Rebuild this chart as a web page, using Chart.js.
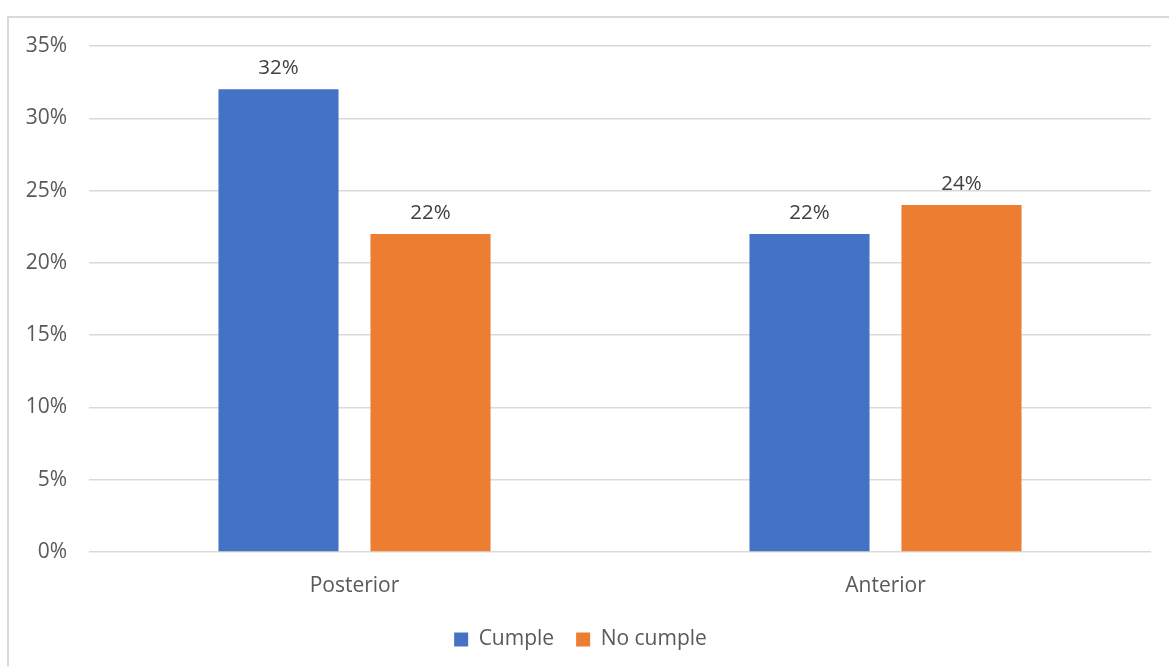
<!DOCTYPE html>
<html>
<head>
<meta charset="utf-8">
<script src="https://cdn.jsdelivr.net/npm/chart.js@4"></script>
<style>
  html, body { margin: 0; padding: 0; background: #fff; }
  #frame { position: absolute; left: 7px; top: 16px; width: 1200px; height: 700px;
           border-left: 2px solid #d9d9d9; border-top: 2px solid #d9d9d9; }
  #wrap { position: absolute; left: 0; top: 0; width: 1169px; height: 666px; }
</style>
</head>
<body>
<div id="frame"></div>
<div id="wrap"><canvas id="chart"></canvas></div>
<script>
const categories = ["Posterior", "Anterior"];
const cumple = [32, 22];
const noCumple = [22, 24];
const yTicks = [0, 5, 10, 15, 20, 25, 30, 35];

// value labels above bars
const barLabels = {
  id: "barLabels",
  afterDatasetsDraw(chart) {
    const ctx = chart.ctx;
    ctx.save();
    ctx.font = "20.5px 'Open Sans', sans-serif";
    ctx.fillStyle = "#404040";
    ctx.textAlign = "center";
    ctx.textBaseline = "bottom";
    chart.data.datasets.forEach((ds, i) => {
      chart.getDatasetMeta(i).data.forEach((bar, j) => {
        ctx.fillText(ds.data[j] + "%", bar.x, bar.y - 11);
      });
    });
    ctx.restore();
  }
};

const ctx = document.getElementById("chart").getContext("2d");
new Chart(ctx, {
  type: "bar",
  data: {
    labels: categories,
    datasets: [
      { label: "Cumple", data: cumple, backgroundColor: "#4472C4" },
      { label: "No cumple", data: noCumple, backgroundColor: "#ED7D31" }
    ]
  },
  options: {
    responsive: true,
    maintainAspectRatio: false,
    animation: false,
    categoryPercentage: 0.5725,
    barPercentage: 0.79,
    layout: { padding: { left: 10, right: 18, top: 46, bottom: 6 } },
    plugins: {
      legend: {
        position: "bottom",
        labels: {
          boxWidth: 14, boxHeight: 14, padding: 22,
          color: "#595959",
          font: { size: 21, family: "'Open Sans', sans-serif" }
        }
      },
      tooltip: { enabled: false }
    },
    scales: {
      x: {
        grid: { display: false },
        border: { display: false },
        afterFit: (s) => { s.height = 55; },
        ticks: { color: "#595959", padding: 13, font: { size: 21, family: "'Open Sans', sans-serif" } }
      },
      y: {
        min: 0, max: 35,
        afterBuildTicks: (s) => { s.ticks = yTicks.map(v => ({ value: v })); },
        afterFit: (s) => { s.width = 79; },
        grid: { color: "#d9d9d9", lineWidth: 1.5, drawTicks: false },
        border: { display: false },
        ticks: {
          color: "#595959", padding: 22,
          font: { size: 21, family: "'Open Sans', sans-serif" },
          callback: (v) => v + "%"
        }
      }
    }
  },
  plugins: [barLabels]
});
</script>
</body>
</html>
